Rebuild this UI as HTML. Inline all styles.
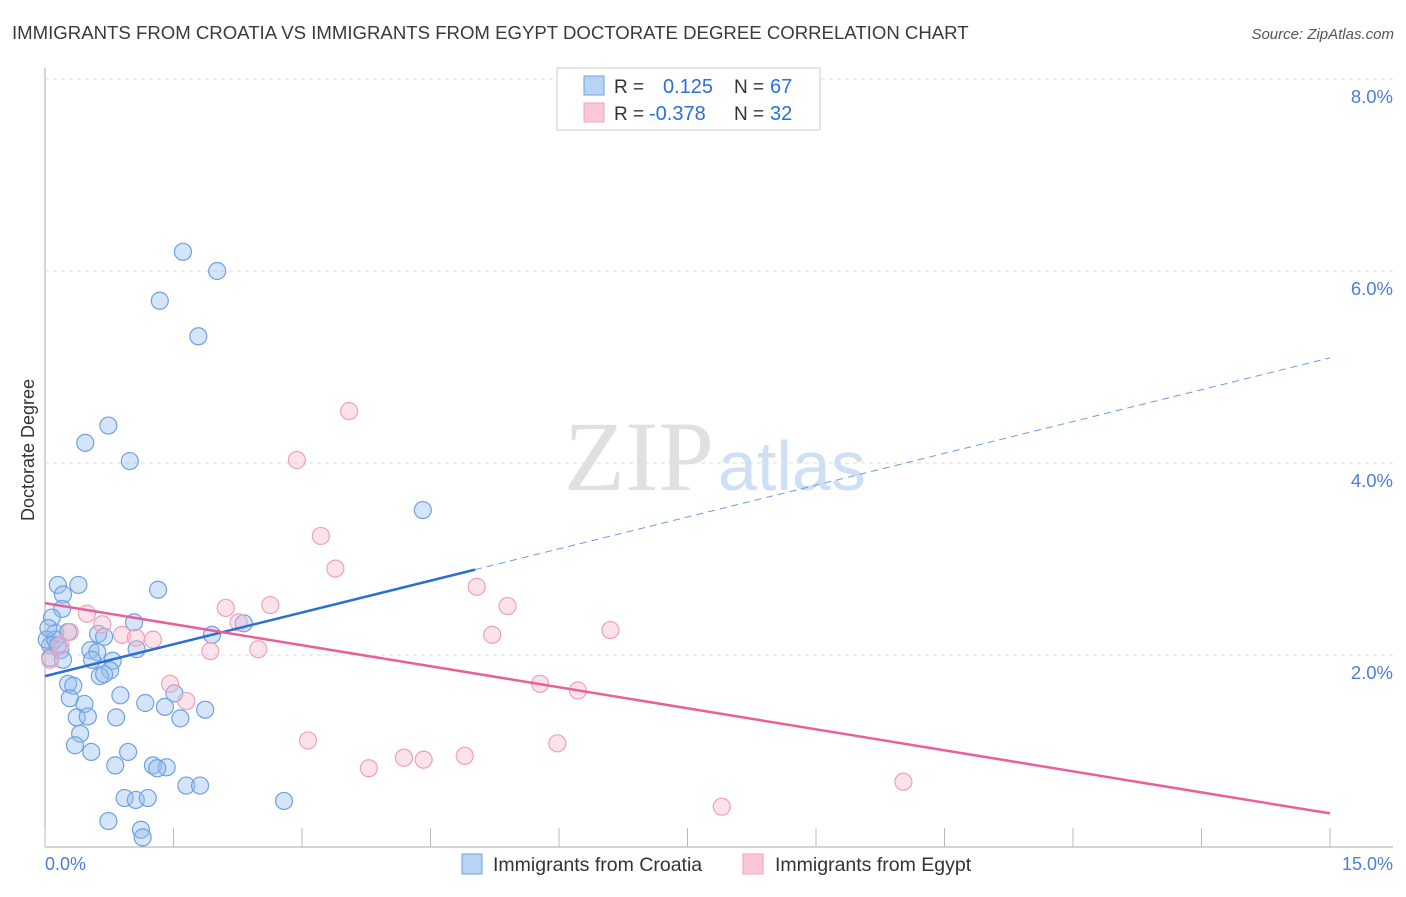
<!DOCTYPE html>
<html><head><meta charset="utf-8"><style>
body{margin:0;background:#fff;font-family:"Liberation Sans",sans-serif;}
</style></head><body>
<svg id="c" width="1406" height="892" style="font-family:'Liberation Sans',sans-serif">
<text x="12" y="39" font-size="18.6" fill="#3a3a3a">IMMIGRANTS FROM CROATIA VS IMMIGRANTS FROM EGYPT DOCTORATE DEGREE CORRELATION CHART</text>
<text x="1394" y="39" font-size="15" fill="#555" font-style="italic" text-anchor="end">Source: ZipAtlas.com</text>
<g id="grid"></g>
<text x="714" y="490" font-size="100" fill="#e0e0e0" style="font-family:'Liberation Serif',serif" text-anchor="end">ZIP</text>
<text x="718" y="490" font-size="70" fill="#cfe0f5">atlas</text>
<g id="marks"></g>
<text x="40" y="456" font-size="18" fill="#333" transform="rotate(-90 34 456)" text-anchor="middle">Doctorate Degree</text>
<text x="45" y="870" font-size="18" fill="#4a7fd8">0.0%</text>
<text x="1393" y="870" font-size="18" fill="#4a7fd8" text-anchor="end">15.0%</text>
<g>
<rect x="557" y="68" width="263" height="62" fill="#fff" stroke="#ccc"/>
<rect x="584" y="76" width="20" height="19" fill="#b8d4f5" stroke="#6fa1e0"/>
<rect x="584" y="103" width="20" height="19" fill="#fbc8d8" stroke="#f0a0b8"/>
<text x="614" y="93" font-size="19" fill="#333">R = </text><text x="663" y="93" font-size="20" fill="#2a6fd6">0.125</text>
<text x="734" y="93" font-size="19" fill="#333">N = </text><text x="770" y="93" font-size="20" fill="#2a6fd6">67</text>
<text x="614" y="120" font-size="19" fill="#333">R = </text><text x="649" y="120" font-size="20" fill="#2a6fd6">-0.378</text>
<text x="734" y="120" font-size="19" fill="#333">N = </text><text x="770" y="120" font-size="20" fill="#2a6fd6">32</text>
</g>
<g>
<rect x="462" y="854" width="20" height="20" fill="#b8d4f5" stroke="#6fa1e0"/>
<text x="493" y="871" font-size="19.5" fill="#333">Immigrants from Croatia</text>
<rect x="743" y="854" width="20" height="20" fill="#fbc8d8" stroke="#f0a0b8"/>
<text x="775" y="871" font-size="19.5" fill="#333">Immigrants from Egypt</text>
</g>
</svg>
<script>
const yTicks=[2,4,6,8];
const yTickLabels=["2.0%","4.0%","6.0%","8.0%"];
const xTicks=[0,1.5,3,4.5,6,7.5,9,10.5,12,13.5,15];
const croatiaX=[1.61,2.01,1.34,1.79,0.74,0.47,0.99,4.41,0.15,0.39,1.32,0.21,0.20,0.08,1.04,0.12,0.62,1.95,0.27,0.69,0.06,0.18,0.53,0.61,1.07,0.79,0.55,0.76,0.64,0.69,0.27,0.33,0.88,0.29,0.46,1.51,1.17,1.40,1.87,0.37,0.50,0.83,1.58,0.41,0.35,0.54,0.97,0.82,1.26,1.42,1.31,1.65,1.81,0.93,1.06,1.20,2.79,0.74,1.12,1.14,0.02,0.06,0.12,0.04,2.32,0.21,0.15];
const croatiaY=[6.20,6.00,5.69,5.32,4.39,4.21,4.02,3.51,2.73,2.73,2.68,2.63,2.48,2.39,2.34,2.23,2.22,2.21,2.24,2.19,2.10,2.05,2.05,2.03,2.06,1.94,1.95,1.84,1.78,1.80,1.70,1.68,1.58,1.55,1.49,1.60,1.50,1.46,1.43,1.35,1.36,1.35,1.34,1.18,1.06,0.99,0.99,0.85,0.85,0.83,0.82,0.64,0.64,0.51,0.49,0.51,0.48,0.27,0.18,0.10,2.16,1.97,2.16,2.28,2.33,1.95,2.10];
const egyptX=[3.55,2.94,3.22,3.39,5.04,5.40,2.63,2.11,2.26,6.60,5.22,0.49,0.67,0.90,1.06,1.26,0.29,1.93,2.49,0.18,0.06,1.46,1.65,5.78,6.22,3.07,5.98,3.78,4.19,4.42,4.90,7.90,10.02];
const egyptY=[4.54,4.03,3.24,2.90,2.71,2.51,2.52,2.49,2.34,2.26,2.21,2.43,2.32,2.21,2.18,2.16,2.24,2.04,2.06,2.10,1.95,1.70,1.52,1.70,1.63,1.11,1.08,0.82,0.93,0.91,0.95,0.42,0.68];
const croatiaTrend=[1.78,0.221];
const croatiaSolidEnd=5.02;
const egyptTrend=[2.54,-0.146];
const NS='http://www.w3.org/2000/svg';
const sx=v=>45+v*(1285/15);
const sy=v=>847-v*96;
function mk(t,a,p){const e=document.createElementNS(NS,t);for(const k in a)e.setAttribute(k,a[k]);p.appendChild(e);return e;}
const grid=document.getElementById('grid');
let ax=mk('line',{x1:45,y1:68,x2:45,y2:847,stroke:'#aaa'},grid);


let bx=mk('line',{x1:45,y1:847,x2:1393,y2:847,stroke:'#aaa'},grid);


yTicks.forEach((v,i)=>{
 const g=mk('line',{x1:45,y1:sy(v),x2:1393,y2:sy(v),stroke:'#ddd','stroke-dasharray':'4,4'},grid);
 
 
 const t=mk('text',{x:1393,y:sy(v)+24,'font-size':18.5,fill:'#4a7fd8','text-anchor':'end'},grid);
 t.textContent=yTickLabels[i];
 
 
});
xTicks.forEach(v=>{
 const l=mk('line',{x1:sx(v),y1:828,x2:sx(v),y2:847,stroke:'#bbb'},grid);
 
 
});
const marks=document.getElementById('marks');
croatiaX.forEach((x,i)=>{
 const c=mk('circle',{cx:sx(x),cy:sy(croatiaY[i]),r:8.5,fill:'rgba(150,190,240,0.4)',stroke:'#6fa1e0','stroke-width':1.2},marks);
 
 
});
egyptX.forEach((x,i)=>{
 const c=mk('circle',{cx:sx(x),cy:sy(egyptY[i]),r:8.5,fill:'rgba(248,185,205,0.4)',stroke:'#f0a0b8','stroke-width':1.2},marks);
 
 
});
const f=(t,x)=>t[0]+t[1]*x;
let l1=mk('line',{x1:sx(0),y1:sy(f(croatiaTrend,0)),x2:sx(croatiaSolidEnd),y2:sy(f(croatiaTrend,croatiaSolidEnd)),stroke:'#2a6fd6','stroke-width':2.5},marks);


let l2=mk('line',{x1:sx(croatiaSolidEnd),y1:sy(f(croatiaTrend,croatiaSolidEnd)),x2:sx(15),y2:sy(f(croatiaTrend,15)),stroke:'#6a9be0','stroke-width':1,'stroke-dasharray':'7,5'},marks);


let l3=mk('line',{x1:sx(0),y1:sy(f(egyptTrend,0)),x2:sx(15),y2:sy(f(egyptTrend,15)),stroke:'#e8609a','stroke-width':2.5},marks);


</script>
</body></html>
